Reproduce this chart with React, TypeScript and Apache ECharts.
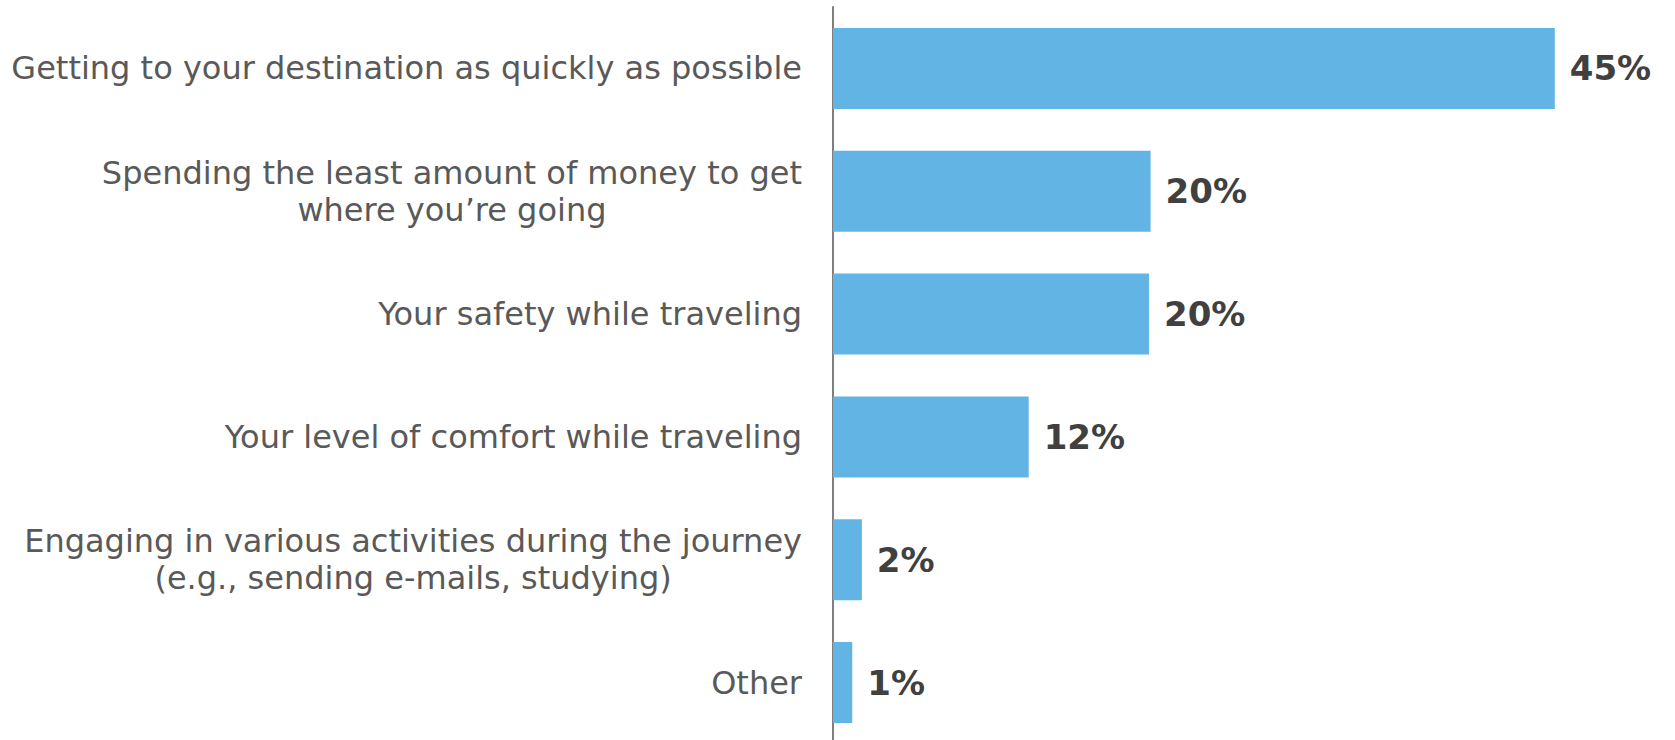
import React, { useEffect, useRef } from "react";
import * as echarts from "echarts";

const categories = [
  "Getting to your destination as quickly as possible",
  "Spending the least amount of money to get\nwhere you’re going",
  "Your safety while traveling",
  "Your level of comfort while traveling",
  "Engaging in various activities during the journey\n(e.g., sending e-mails, studying)",
  "Other",
];
const values = [45.0, 19.8, 19.7, 12.2, 1.8, 1.2];
const valueLabels = ["45%", "20%", "20%", "12%", "2%", "1%"];

export default function App() {
  const ref = useRef<HTMLDivElement>(null);
  useEffect(() => {
    if (!ref.current) return;
    const chart = echarts.init(ref.current, null, { renderer: "svg" });
    chart.setOption({
      animation: false,
      backgroundColor: "#ffffff",
      grid: { left: 833, top: 7, height: 737, right: 40, containLabel: false },
      xAxis: {
        type: "value",
        min: 0,
        max: 50,
        show: false,
      },
      yAxis: {
        type: "category",
        inverse: true,
        data: categories,
        axisLine: { show: true, lineStyle: { color: "#7f7f7f", width: 2 } },
        axisTick: { show: false },
        splitLine: { show: false },
        axisLabel: {
          fontFamily: "DejaVu Sans",
          fontSize: 32,
          lineHeight: 37,
          color: "#595959",
          margin: 31,
          align: "right",
          formatter: (v: string) =>
            v
              .split("\n")
              .map((l) => `{c|${l}}`)
              .join("\n"),
          rich: {
            c: {
              fontFamily: "DejaVu Sans",
              fontSize: 32,
              lineHeight: 37,
              color: "#595959",
              align: "center",
            },
          },
        },
      },
      series: [
        {
          type: "bar",
          data: values,
          barCategoryGap: "34%",
          itemStyle: { color: "#62B4E5" },
          label: {
            show: true,
            position: "right",
            distance: 15,
            fontFamily: "DejaVu Sans",
            fontWeight: "bold",
            fontSize: 34,
            color: "#404040",
            formatter: (p: any) => valueLabels[p.dataIndex],
          },
        },
      ],
    });
    return () => chart.dispose();
  }, []);
  return (
    <div
      style={{
        position: "absolute",
        left: 0,
        top: 0,
        width: 1675,
        height: 740,
        overflow: "hidden",
        background: "#ffffff",
      }}
    >
      <div ref={ref} style={{ width: 1675, height: 750 }} />
    </div>
  );
}
